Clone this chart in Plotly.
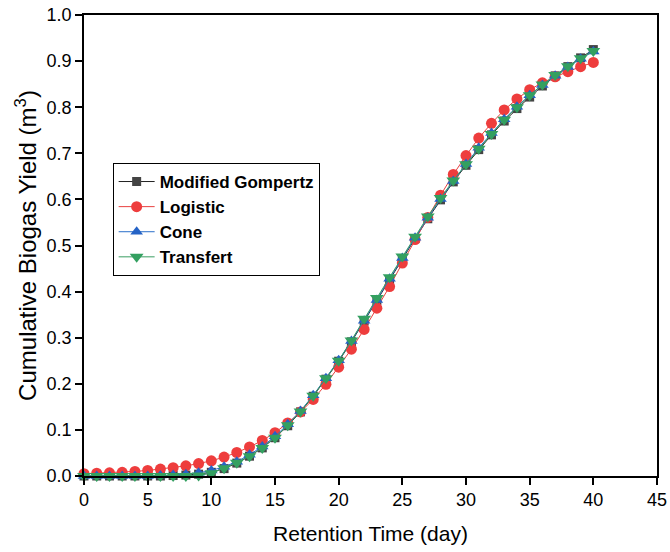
import plotly.graph_objects as go

days = list(range(0, 41))

gompertz = [0.000, 0.000, 0.000, 0.000, 0.000, 0.000, 0.000, 0.001, 0.002, 0.004,
            0.008, 0.016, 0.028, 0.043, 0.061, 0.083, 0.109, 0.139, 0.173, 0.210,
            0.249, 0.291, 0.336, 0.381, 0.426, 0.471, 0.515, 0.558, 0.599, 0.638,
            0.674, 0.708, 0.740, 0.770, 0.797, 0.822, 0.846, 0.868, 0.888, 0.907,
            0.925]

logistic = [0.005, 0.006, 0.007, 0.008, 0.010, 0.012, 0.015, 0.018, 0.022, 0.027,
            0.033, 0.041, 0.051, 0.063, 0.077, 0.094, 0.115, 0.139, 0.166, 0.199,
            0.236, 0.275, 0.318, 0.364, 0.411, 0.462, 0.513, 0.561, 0.609, 0.654,
            0.695, 0.733, 0.765, 0.794, 0.818, 0.838, 0.853, 0.866, 0.877, 0.888,
            0.897]

cone = [0.000, 0.000, 0.000, 0.000, 0.000, 0.000, 0.001, 0.002, 0.004, 0.007,
        0.012, 0.020, 0.031, 0.046, 0.064, 0.086, 0.112, 0.141, 0.175, 0.212,
        0.251, 0.293, 0.337, 0.382, 0.428, 0.473, 0.517, 0.560, 0.601, 0.640,
        0.677, 0.712, 0.744, 0.774, 0.801, 0.826, 0.848, 0.868, 0.887, 0.905,
        0.921]

transfert = [0.000, 0.000, 0.000, 0.000, 0.000, 0.000, 0.000, 0.000, 0.000, 0.001,
             0.006, 0.017, 0.029, 0.043, 0.061, 0.083, 0.110, 0.140, 0.174, 0.212,
             0.250, 0.294, 0.341, 0.386, 0.431, 0.476, 0.519, 0.563, 0.603, 0.641,
             0.676, 0.710, 0.742, 0.773, 0.800, 0.826, 0.849, 0.870, 0.889, 0.906,
             0.922]

x_ticks = [0, 5, 10, 15, 20, 25, 30, 35, 40, 45]
y_ticks = [0.0, 0.1, 0.2, 0.3, 0.4, 0.5, 0.6, 0.7, 0.8, 0.9, 1.0]

series = [
    ("Modified Gompertz", gompertz, "#222222", "#444444", "square", 9),
    ("Logistic", logistic, "#e8413f", "#ee3d3d", "circle", 11),
    ("Cone", cone, "#2a6fc9", "#2563c6", "triangle-up", 11),
    ("Transfert", transfert, "#3a9d62", "#33a060", "triangle-down", 12),
]

fig = go.Figure()
for name, vals, lcol, mcol, sym, sz in series:
    fig.add_trace(go.Scatter(
        x=days, y=vals, name=name, mode="lines+markers",
        line=dict(color=lcol, width=1),
        marker=dict(symbol=sym, size=sz, color=mcol, line=dict(width=0)),
        cliponaxis=False,
    ))

font_family = "Liberation Sans, Arial, sans-serif"
fig.update_layout(
    width=670, height=552,
    margin=dict(l=84, r=13, t=15, b=76),
    paper_bgcolor="white", plot_bgcolor="white",
    font=dict(family=font_family, color="black"),
    showlegend=True,
    legend=dict(
        x=0.05, y=0.679, xanchor="left", yanchor="top",
        bordercolor="black", borderwidth=1, bgcolor="white",
        font=dict(size=17, family=font_family, weight="bold"),
        itemwidth=36, tracegroupgap=0,
    ),
    xaxis=dict(
        range=[0, 45], tickvals=x_ticks, ticktext=[str(v) for v in x_ticks],
        showline=True, linecolor="black", linewidth=1.5, mirror=True,
        ticks="outside", ticklen=7, tickwidth=1.5, tickcolor="black",
        showgrid=False, zeroline=False, automargin=False,
        tickfont=dict(size=18),
        title=dict(text="Retention Time (day)", font=dict(size=21), standoff=17),
    ),
    yaxis=dict(
        range=[0, 1.0], tickvals=y_ticks, ticktext=[f"{v:.1f}" for v in y_ticks],
        showline=True, linecolor="black", linewidth=1.5, mirror=True,
        ticks="outside", ticklen=7, tickwidth=1.5, tickcolor="black",
        showgrid=False, zeroline=False, automargin=False,
        tickfont=dict(size=18), ticklabeloverflow="allow",
        title=dict(text="Cumulative Biogas Yield (m<sup>3</sup>)", font=dict(size=24), standoff=3),
    ),
)

fig.write_html("out.html", config={"displayModeBar": False},
               post_script="document.body.style.margin='0';")
